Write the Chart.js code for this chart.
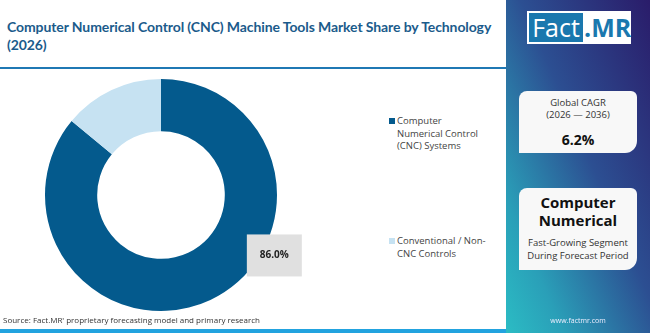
<!DOCTYPE html>
<html>
<head>
<meta charset="utf-8">
<script src="https://cdn.jsdelivr.net/npm/chart.js@4"></script>
<style>
body{margin:0;width:650px;height:333px;overflow:hidden;background:#fff;font-family:"Open Sans",sans-serif;position:relative}
#title{position:absolute;left:7px;top:18px;white-space:nowrap;font-family:Lato,sans-serif;font-size:14px;letter-spacing:-0.1px;font-weight:700;color:#1b5b8b;line-height:18px}
#topline{position:absolute;left:0;top:67px;width:506px;height:2px;background:#1f78b4}
#botline{position:absolute;left:0;top:329px;width:506px;height:4px;background:#22a3df}
#chartbox{position:absolute;left:0;top:70px;width:340px;height:250px}
#legend{position:absolute;left:389px;top:0;width:110px}
.lg{position:absolute;left:0;width:110px;font-size:9.5px;color:#444;line-height:12.5px;padding-left:8px}
.lg span{position:absolute;left:0;top:3px;width:6px;height:6px}
#source{position:absolute;left:3px;top:314px;font-size:8px;color:#333}
#panel{position:absolute;left:506px;top:0;width:144px;height:333px;background:linear-gradient(to bottom left,#2a1c6a 0%,#2c4f92 45%,#2a9fb8 80%,#2bbcc4 100%)}
#logo{position:absolute;left:21px;top:11px;width:104px;height:33px;background:#fff}
#logo .f{position:absolute;left:2px;top:2px;width:54px;height:29px;background:#1a78ae;color:#fff;font-size:25px;line-height:29px;text-align:center;font-family:"Open Sans",sans-serif}
#logo .m{position:absolute;left:57px;top:2px;height:29px;color:#1a78ae;font-size:25px;line-height:29px;font-weight:700}
.card{position:absolute;left:13px;width:118px;background:#f8f8f8;border-radius:8px 6px 12px 0;text-align:center;color:#333}
#web{position:absolute;left:0;width:144px;top:316px;text-align:center;color:#eef;font-size:7px}
</style>
</head>
<body>
<div id="title">Computer Numerical Control (CNC) Machine Tools Market Share by Technology<br>(2026)</div>
<div id="topline"></div>
<div id="chartbox"><canvas id="myChart"></canvas></div>
<div id="legend"></div>
<div id="source">Source: Fact.MR' proprietary forecasting model and primary research</div>
<div id="botline"></div>
<div id="panel">
  <div id="logo"><div class="f">Fact</div><div class="m">.MR</div></div>
  <div class="card" style="top:91px;height:62px">
    <div style="font-size:9.5px;margin-top:6px;line-height:12px">Global CAGR<br>(2026 — 2036)</div>
    <div style="font-size:14px;font-weight:700;color:#111;margin-top:9px">6.2%</div>
  </div>
  <div class="card" style="top:188px;height:82px">
    <div style="font-size:15px;font-weight:700;color:#111;margin-top:5px;line-height:18px">Computer<br>Numerical</div>
    <div style="font-size:9.5px;margin-top:8px;line-height:12.5px">Fast-Growing Segment<br>During Forecast Period</div>
  </div>
  <div id="web">www.factmr.com</div>
</div>
<script>
'use strict';
//data
let technologies=[['Computer','Numerical Control','(CNC) Systems'],['Conventional / Non-','CNC Controls']];
let shares=[86,14];
let segColors=['#045a8d','#c6e2f2'];
let legendTops=[115,235];

//legend
let legendEle=document.getElementById('legend');
for(let i=0;i<technologies.length;i++){
  let d=document.createElement('div');
  d.className='lg';
  d.style.top=legendTops[i]+'px';
  d.innerHTML='<span style="background:'+segColors[i]+'"></span>'+technologies[i].join('<br>');
  legendEle.appendChild(d);
}

//label box for biggest slice
let boxLabel={
  id:'boxLabel',
  afterDatasetsDraw(chart){
    let arc=chart.getDatasetMeta(0).data[0];
    let ctx=chart.ctx;
    let bx=arc.x+arc.outerRadius*0.74;
    let by=arc.y+arc.outerRadius*0.34;
    ctx.save();
    ctx.fillStyle='#e0e0e0';
    ctx.fillRect(bx,by,55,42);
    ctx.fillStyle='#222';
    ctx.font='bold 10px "Open Sans"';
    ctx.textAlign='center';
    ctx.textBaseline='middle';
    ctx.fillText(shares[0].toFixed(1)+'%',bx+27.5,by+21);
    ctx.restore();
  }
};

let ctx=document.getElementById('myChart').getContext('2d');
let myChart=new Chart(ctx,{
  type:'doughnut',
  data:{
    labels:technologies,
    datasets:[{data:shares,backgroundColor:segColors,borderWidth:0}]
  },
  options:{
    responsive:true,
    maintainAspectRatio:false,
    animation:false,
    cutout:'55%',
    layout:{padding:{top:9,bottom:9,left:0,right:18}},
    plugins:{legend:{display:false},tooltip:{enabled:false}}
  },
  plugins:[boxLabel]
});
</script>
</body>
</html>
